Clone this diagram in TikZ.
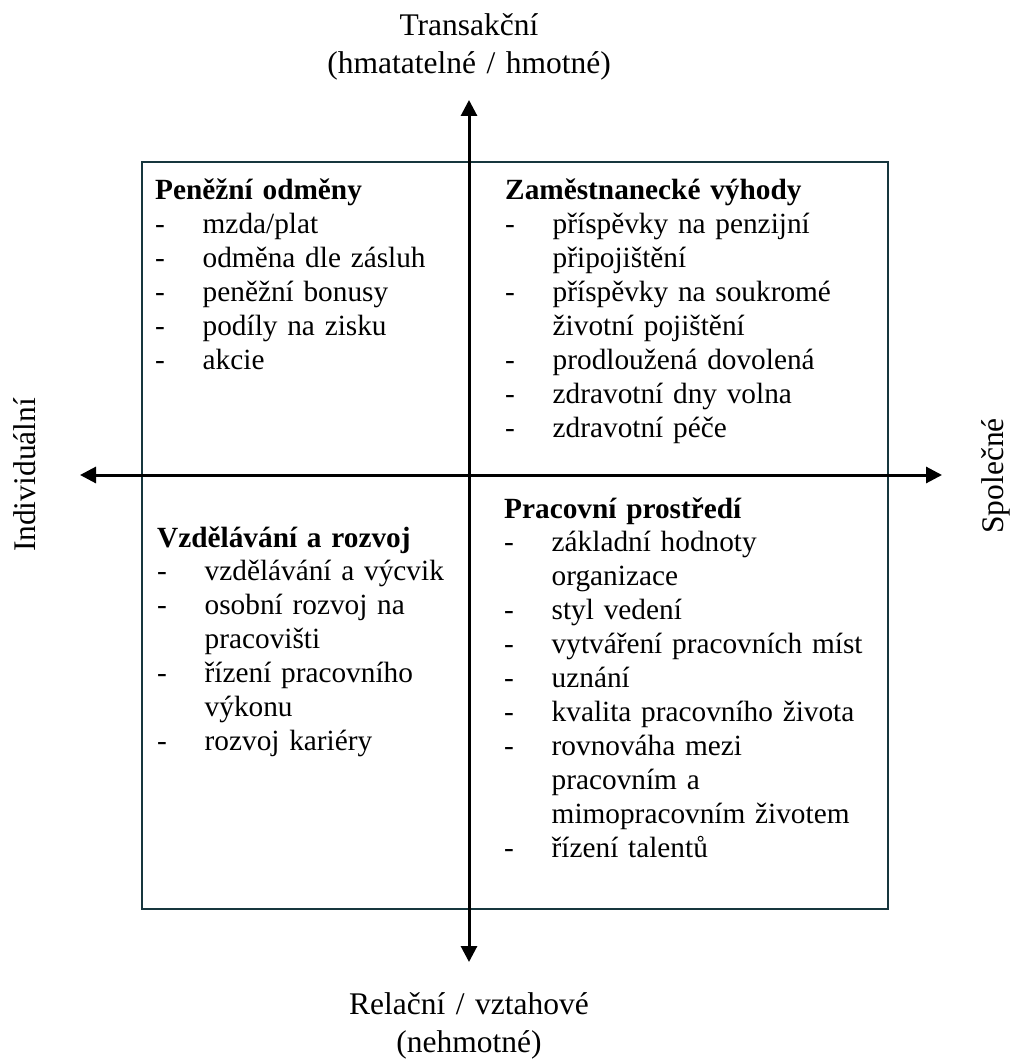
\documentclass[tikz,border=0pt]{standalone}
\usepackage{fontspec}
\setmainfont{Liberation Serif}
\usetikzlibrary{arrows.meta}
\definecolor{framecol}{HTML}{17363D}
\newcommand{\qitem}[1]{\\\makebox[47.5pt][l]{-}#1}
\newcommand{\qcont}[1]{\\\hspace*{47.5pt}#1}
\tikzset{
  frame/.style={draw=framecol, line width=2.8pt},
  axis/.style={line width=3pt, draw=black,
    {Triangle[length=16pt,width=16pt]}-{Triangle[length=16pt,width=16pt]}},
  quad/.style={anchor=base west, inner sep=0pt, text width=600pt, align=left,
    font=\fontsize{29.3}{33.9}\selectfont},
  pole/.style={anchor=base, inner sep=0pt, text width=400pt, align=center,
    font=\fontsize{31.5}{38}\selectfont},
  side/.style={anchor=base, inner sep=0pt, rotate=90,
    font=\fontsize{31.5}{38}\selectfont}
}
\begin{document}
\begin{tikzpicture}[x=1pt,y=-1pt]
\useasboundingbox (0,0) rectangle (1011,1064);
% frame
\draw[frame] (142,162) rectangle (888,909);
% axis end points
\coordinate (ttip) at (469,100);
\coordinate (btip) at (469,962);
\coordinate (ltip) at (80,475);
\coordinate (rtip) at (942,475);
\draw[axis] (btip) -- (ttip);
\draw[axis] (ltip) -- (rtip);
% pole labels
\node[pole] (top) at (469,36) {Transakční\\(hmatatelné / hmotné)};
\node[pole] (bottom) at (469,1014) {Relační / vztahové\\(nehmotné)};
\node[side] (left) at (35,475) {Individuální};
\node[side] (right) at (1003,476) {Společné};
% quadrants
\node[quad] (q1) at (155,200) {\textbf{Peněžní odměny}%
  \qitem{mzda/plat}%
  \qitem{odměna dle zásluh}%
  \qitem{peněžní bonusy}%
  \qitem{podíly na zisku}%
  \qitem{akcie}};
\node[quad] (q2) at (505,200) {\textbf{Zaměstnanecké výhody}%
  \qitem{příspěvky na penzijní}%
  \qcont{připojištění}%
  \qitem{příspěvky na soukromé}%
  \qcont{životní pojištění}%
  \qitem{prodloužená dovolená}%
  \qitem{zdravotní dny volna}%
  \qitem{zdravotní péče}};
\node[quad] (q3) at (157,547) {\textbf{Vzdělávání a rozvoj}%
  \qitem{vzdělávání a výcvik}%
  \qitem{osobní rozvoj na}%
  \qcont{pracovišti}%
  \qitem{řízení pracovního}%
  \qcont{výkonu}%
  \qitem{rozvoj kariéry}};
\node[quad] (q4) at (504,518) {\textbf{Pracovní prostředí}%
  \qitem{základní hodnoty}%
  \qcont{organizace}%
  \qitem{styl vedení}%
  \qitem{vytváření pracovních míst}%
  \qitem{uznání}%
  \qitem{kvalita pracovního života}%
  \qitem{rovnováha mezi}%
  \qcont{pracovním a}%
  \qcont{mimopracovním životem}%
  \qitem{řízení talentů}};
\end{tikzpicture}
\end{document}
